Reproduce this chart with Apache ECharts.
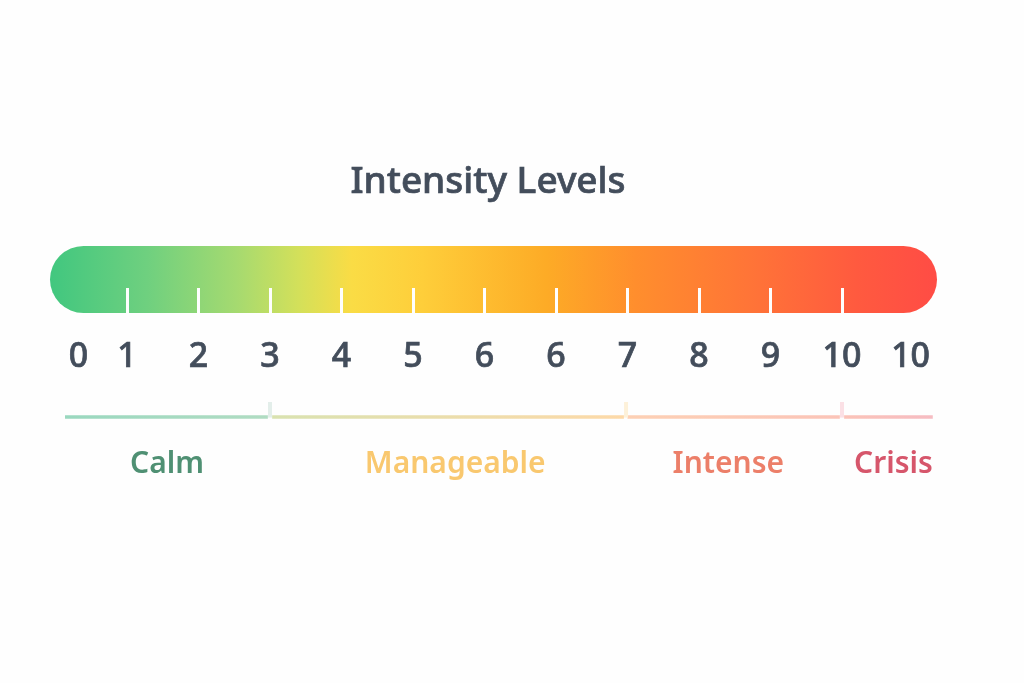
<!DOCTYPE html>
<html style="height: 100%">
<head>
<meta charset="utf-8">
</head>
<body style="height: 100%; margin: 0; background: #fefefe">
	<div id="container" style="width: 1024px; height: 683px"></div>
	<script type="text/javascript" src="https://cdn.jsdelivr.net/npm/echarts@6/dist/echarts.min.js"></script>
	<script type="text/javascript">
		// scale positions: 1 is the first white tick, 11 the last one
		var scaleStart = -0.077;
		var scaleEnd = 12.329;
		var tickValues = [1, 2, 3, 4, 5, 6, 7, 8, 9, 10, 11];
		var labelValues = [0.32, 1, 2, 3, 4, 5, 6, 7, 8, 9, 10, 11, 11.96];
		var tickLabels = ['0', '1', '2', '3', '4', '5', '6', '6', '7', '8', '9', '10', '10'];

		var bands = ['Calm', 'Manageable', 'Intense', 'Crisis'];
		var bandStart = [0.133, 3.03, 8.0, 11.03];
		var bandEnd = [2.97, 7.95, 10.97, 12.27];
		var bandLabelAt = [1.56, 5.59, 9.41, 11.72];
		var bandTextColors = ['#4f9073', '#f9c86f', '#ec7f69', '#d6566b'];
		var bandLineFrom = ['#9ad8bf', '#d9e2b0', '#fdd0b4', '#fbc3b8'];
		var bandLineTo = ['#b0dcc2', '#fdd9a8', '#fbc4b8', '#f6bcc2'];
		var dividers = [3, 7.98, 11];
		var dividerColors = ['#e3eeea', '#fdf1d9', '#fbe0e5'];

		var barStops = [
			[0, '#41c77f'], [0.11, '#6fd07f'], [0.21, '#a5da70'], [0.28, '#d3e05a'],
			[0.34, '#fadc45'], [0.42, '#fece3a'], [0.56, '#fdab26'], [0.66, '#ff8e2d'],
			[0.8, '#ff7238'], [0.91, '#ff5a3f'], [1, '#ff4c45']
		];

		var myChart = echarts.init(document.getElementById('container'));
		var gridLeft = 50, gridWidth = 887;

		function hGradient(stops) {
			return new echarts.graphic.LinearGradient(0, 0, 1, 0, stops.map(function(s) {
				return { offset: s[0], color: s[1] };
			}));
		}

		var option = {
			backgroundColor: '#fefefe',
			animation: false,
			title: {
				text: 'Intensity Levels',
				left: 483,
				top: 159,
				textAlign: 'center',
				textStyle: {
					color: '#434d5b', fontFamily: 'Noto Sans', fontSize: 37, fontWeight: 500,
					textBorderColor: '#434d5b', textBorderWidth: 0.7
				}
			},
			grid: [
				{ left: gridLeft, width: gridWidth, top: 246, height: 67 },
				{ left: gridLeft, width: gridWidth, top: 402, height: 60 }
			],
			xAxis: [{
				gridIndex: 0, type: 'value', min: scaleStart, max: scaleEnd, z: 5,
				splitLine: { show: false },
				axisLine: { show: false },
				axisTick: {
					show: true, inside: true, length: 25, customValues: tickValues,
					lineStyle: { color: '#fefefe', width: 3 }
				},
				axisLabel: {
					show: true, customValues: labelValues, margin: 27,
					color: '#434d5b', fontFamily: 'Noto Sans', fontSize: 34, fontWeight: 500,
					textBorderColor: '#434d5b', textBorderWidth: 0.7,
					formatter: function(value) { return tickLabels[labelValues.indexOf(value)]; }
				}
			}, {
				gridIndex: 1, type: 'value', min: scaleStart, max: scaleEnd, show: false
			}],
			yAxis: [
				{ gridIndex: 0, type: 'value', min: 0, max: 1, show: false },
				{ gridIndex: 1, type: 'value', min: 0, max: 1, show: false }
			],
			series: [{
				// the rounded gradient bar
				type: 'custom', xAxisIndex: 0, yAxisIndex: 0, silent: true,
				data: [[scaleStart, scaleEnd]],
				renderItem: function(params, api) {
					var a = api.coord([api.value(0), 1]);
					var b = api.coord([api.value(1), 0]);
					return {
						type: 'rect',
						shape: { x: a[0], y: a[1], width: b[0] - a[0], height: b[1] - a[1], r: (b[1] - a[1]) / 2 },
						style: { fill: hGradient(barStops) }
					};
				}
			}, {
				// band rules under the numbers
				type: 'custom', xAxisIndex: 1, yAxisIndex: 1, silent: true,
				data: bands.map(function(b, i) { return [bandStart[i], bandEnd[i], i]; }),
				renderItem: function(params, api) {
					var i = api.value(2);
					var a = api.coord([api.value(0), 0.75]);
					var b = api.coord([api.value(1), 0.75]);
					return {
						type: 'rect',
						shape: { x: a[0], y: a[1] - 1.8, width: b[0] - a[0], height: 3.6 },
						style: { fill: hGradient([[0, bandLineFrom[i]], [1, bandLineTo[i]]]) }
					};
				}
			}, {
				// dividers between the bands
				type: 'custom', xAxisIndex: 1, yAxisIndex: 1, silent: true,
				data: dividers.map(function(d, i) { return [d, i]; }),
				renderItem: function(params, api) {
					var a = api.coord([api.value(0), 1]);
					var b = api.coord([api.value(0), 0.74]);
					return {
						type: 'rect',
						shape: { x: a[0] - 2, y: a[1], width: 4, height: b[1] - a[1] },
						style: { fill: dividerColors[api.value(1)] }
					};
				}
			}, {
				// band names
				type: 'scatter', xAxisIndex: 1, yAxisIndex: 1, silent: true, symbolSize: 0,
				itemStyle: { opacity: 1 },
				data: bands.map(function(b, i) {
					return {
						name: b,
						value: [bandLabelAt[i], 0],
						label: {
							show: true, position: 'inside', offset: [0, 2], formatter: '{b}',
							color: bandTextColors[i], fontFamily: 'Noto Sans', fontSize: 30, fontWeight: 600
						}
					};
				})
			}]
		};
		myChart.setOption(option);
	</script>
</body>
</html>
